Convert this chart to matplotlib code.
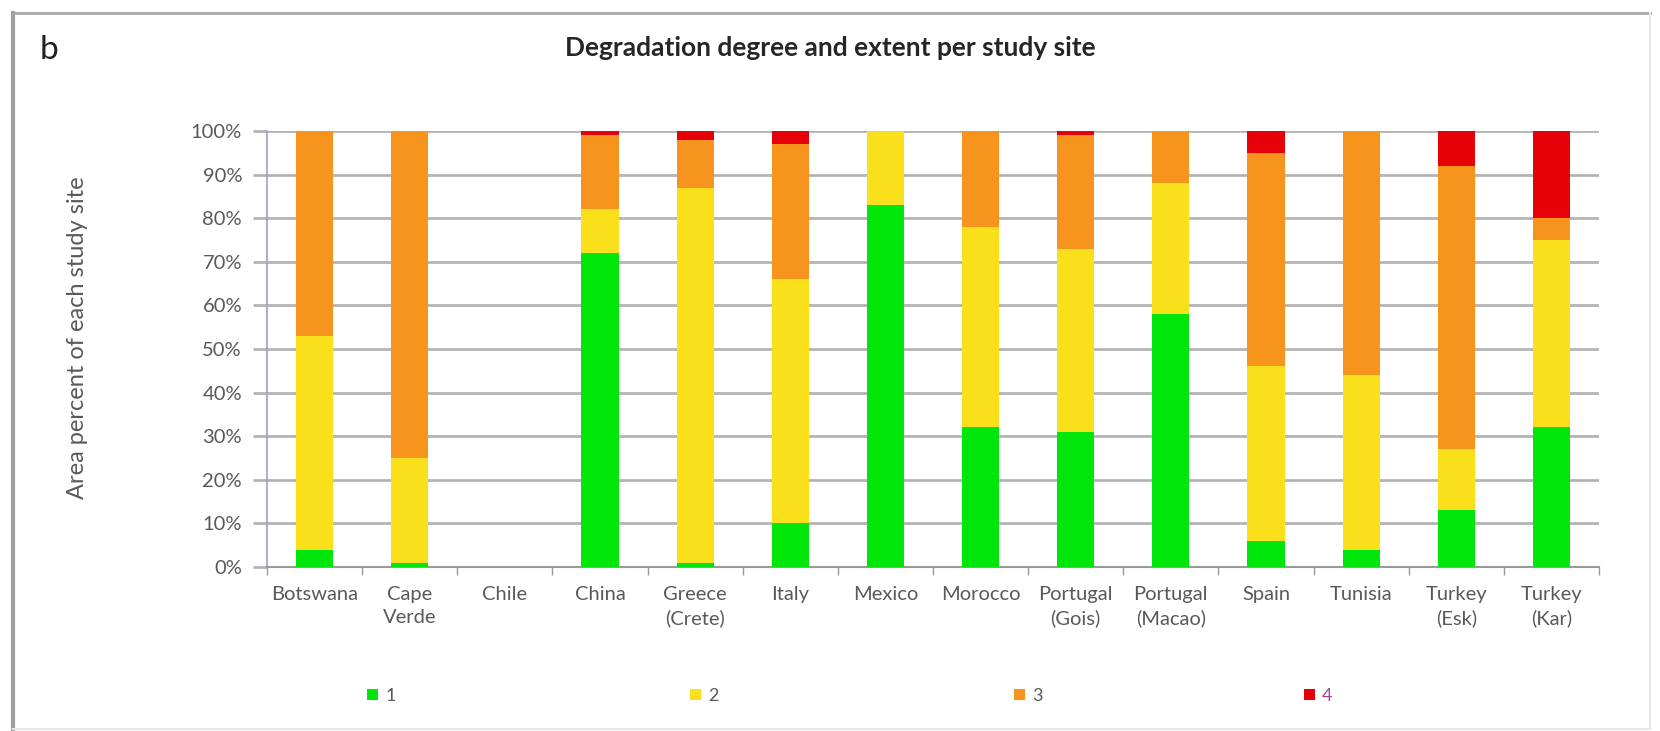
import numpy as np
import matplotlib
matplotlib.use("Agg")
import matplotlib.pyplot as plt
from matplotlib.lines import Line2D

plt.rcParams['font.family'] = ['Lato', 'DejaVu Sans']

# study sites and area share (%) per degradation degree
sites = ['Botswana', 'Cape\nVerde', 'Chile', 'China', 'Greece\n(Crete)',
         'Italy', 'Mexico', 'Morocco', 'Portugal\n(Gois)', 'Portugal\n(Macao)',
         'Spain', 'Tunisia', 'Turkey\n(Esk)', 'Turkey\n(Kar)']
degree_1 = [4, 1, 0, 72, 1, 10, 83, 32, 31, 58, 6, 4, 13, 32]
degree_2 = [49, 24, 0, 10, 86, 56, 17, 46, 42, 30, 40, 40, 14, 43]
degree_3 = [47, 75, 0, 17, 11, 31, 0, 22, 26, 12, 49, 56, 65, 5]
degree_4 = [0, 0, 0, 1, 2, 3, 0, 0, 1, 0, 5, 0, 8, 20]
degree_names = ['1', '2', '3', '4']
colors = ['#00e60a', '#f9e01b', '#f7941e', '#e60008']

grey_txt = '#595959'
grid_col = '#b4b4b4'

fig = plt.figure(figsize=(16.6, 7.31), dpi=100)
ax = fig.add_axes([267 / 1660, 1 - 567 / 731, (1599 - 267) / 1660, (567 - 131) / 731])

x = np.arange(len(sites))
bottom = np.zeros(len(sites))
bars = []
for vals, col in zip([degree_1, degree_2, degree_3, degree_4], colors):
    v = np.array(vals, dtype=float)
    b = ax.bar(x, v, width=0.39, bottom=bottom, color=col, zorder=3, linewidth=0)
    bars.append(b)
    bottom += v

ax.set_xlim(-0.5, len(sites) - 0.5)
ax.set_ylim(0, 100)
ax.set_yticks(np.arange(0, 101, 10))
ax.set_yticklabels(['%d%%' % t for t in range(0, 101, 10)])
ax.yaxis.grid(True, color=grid_col, linewidth=2, zorder=0)
ax.tick_params(axis='y', length=10, width=2, color=grid_col, labelsize=14.5,
               labelcolor=grey_txt, pad=8)

# category labels sit between boundary tick marks
ax.set_xticks(x)
ax.set_xticklabels(sites, fontsize=14.5, color=grey_txt, linespacing=1.4)
ax.tick_params(axis='x', length=0, pad=14)
ax.set_xticks(np.arange(-0.5, len(sites), 1.0), minor=True)
ax.tick_params(axis='x', which='minor', length=6, width=1, color='#9a9a9a')

for side in ['top', 'right']:
    ax.spines[side].set_visible(False)
ax.spines['left'].set_color('#a0a0c8')
ax.spines['left'].set_linewidth(1.2)
ax.spines['bottom'].set_color('#9a9a9a')
ax.spines['bottom'].set_linewidth(1.5)

fig.text(77 / 1660, 1 - 338 / 731, 'Area percent of each study site', rotation=90,
         ha='center', va='center', fontsize=17, color=grey_txt)
fig.text(830 / 1660, 1 - 48 / 731, 'Degradation degree and extent per study site',
         ha='center', va='center', fontsize=19, fontweight='bold', color='#262626')
fig.text(40 / 1660, 1 - 50 / 731, 'b', ha='left', va='center', fontsize=24,
         color='#202020')

# legend entries spread along the bottom
leg_x = [367, 690, 1014, 1304]
label_colors = [grey_txt, grey_txt, grey_txt, '#a0449a']
for b, name, lx, lc in zip(bars, degree_names, leg_x, label_colors):
    leg = fig.legend([b], [name], loc='center left',
                     bbox_to_anchor=(lx / 1660, 1 - 696 / 731), frameon=False,
                     fontsize=13, handlelength=0.6, handleheight=0.6,
                     handletextpad=0.4, borderaxespad=0, borderpad=0)
    for t in leg.get_texts():
        t.set_color(lc)

# panel frame
fw, fh = 1660, 731
fig.add_artist(Line2D([13 / fw, 1650 / fw], [1 - 13 / fh, 1 - 13 / fh],
                      color='#a8a8a8', linewidth=2))
fig.add_artist(Line2D([13 / fw, 13 / fw], [1 - 13 / fh, 1 - 729 / fh],
                      color='#a0a0a0', linewidth=3))
fig.add_artist(Line2D([1650 / fw, 1650 / fw], [1 - 13 / fh, 1 - 729 / fh],
                      color='#e8e8e8', linewidth=1.5))
fig.add_artist(Line2D([13 / fw, 1650 / fw], [1 - 729 / fh, 1 - 729 / fh],
                      color='#e8e8e8', linewidth=1.5))

fig.savefig('out.png', dpi=100)
